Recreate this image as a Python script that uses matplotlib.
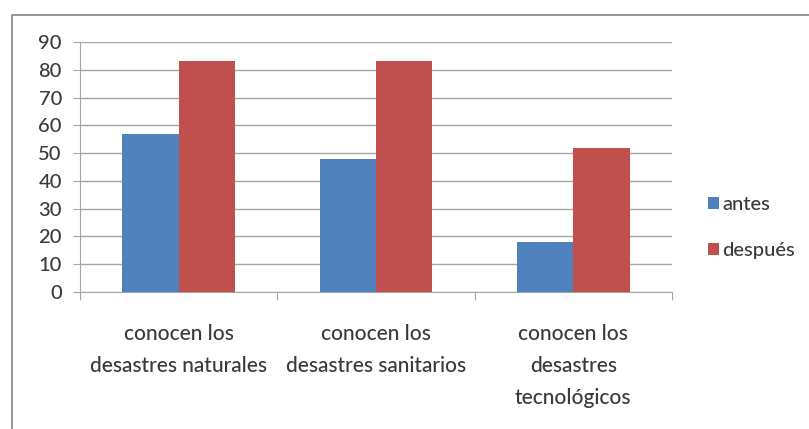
import matplotlib
matplotlib.use("Agg")
import matplotlib.pyplot as plt
import numpy as np
from matplotlib.lines import Line2D

categories = ["conocen los\ndesastres naturales",
              "conocen los\ndesastres sanitarios",
              "conocen los\ndesastres\ntecnológicos"]
antes = [57, 48, 18]
despues = [83, 83, 52]
yticks = list(range(0, 91, 10))

blue = "#4f81bd"
red = "#c0504d"
grid_c = "#a6a6a6"
text_c = "#3a3a3a"

plt.rcParams["font.family"] = ["Lato", "DejaVu Sans"]
plt.rcParams["font.weight"] = "medium"

fig = plt.figure(figsize=(8.09, 4.29), dpi=100)
# chart frame: only the left and top edges fall inside the picture
bx, by = 11.5 / 809, 1 - 14.5 / 429
fig.lines.append(Line2D([bx, bx, 1.0], [0.0, by, by], transform=fig.transFigure,
                        color="#8c8c8c", lw=1.3))
ax = fig.add_axes([80 / 809, 137 / 429, 592 / 809, 250 / 429])

x = np.arange(len(categories))
w = 0.285
ax.bar(x - w / 2, antes, w, color=blue, label="antes", zorder=3)
ax.bar(x + w / 2, despues, w, color=red, label="después", zorder=3)

ax.set_xlim(-0.5, len(categories) - 0.5)
ax.set_ylim(0, 90)
ax.set_yticks(yticks)
ax.yaxis.grid(True, color=grid_c, lw=1.0, zorder=0)
for s in ("top", "right"):
    ax.spines[s].set_visible(False)
for s in ("left", "bottom"):
    ax.spines[s].set_color(grid_c)
ax.tick_params(axis="y", colors=grid_c, labelcolor=text_c, labelsize=14.5,
               length=5, pad=8)
ax.set_xticks(np.arange(-0.5, len(categories), 1.0))
ax.set_xticklabels([])
ax.tick_params(axis="x", colors=grid_c, length=6)
for i, lab in enumerate(categories):
    ax.text(i, -11.5, lab, ha="center", va="top", fontsize=15, color=text_c,
            linespacing=1.75)

leg = fig.legend(loc="center left", bbox_to_anchor=(690 / 809, 0.47),
                 frameon=False, fontsize=14.5, handlelength=0.55, handleheight=0.55,
                 handletextpad=0.15, labelspacing=1.45)
for t in leg.get_texts():
    t.set_color(text_c)

fig.savefig("out.png", dpi=100)
